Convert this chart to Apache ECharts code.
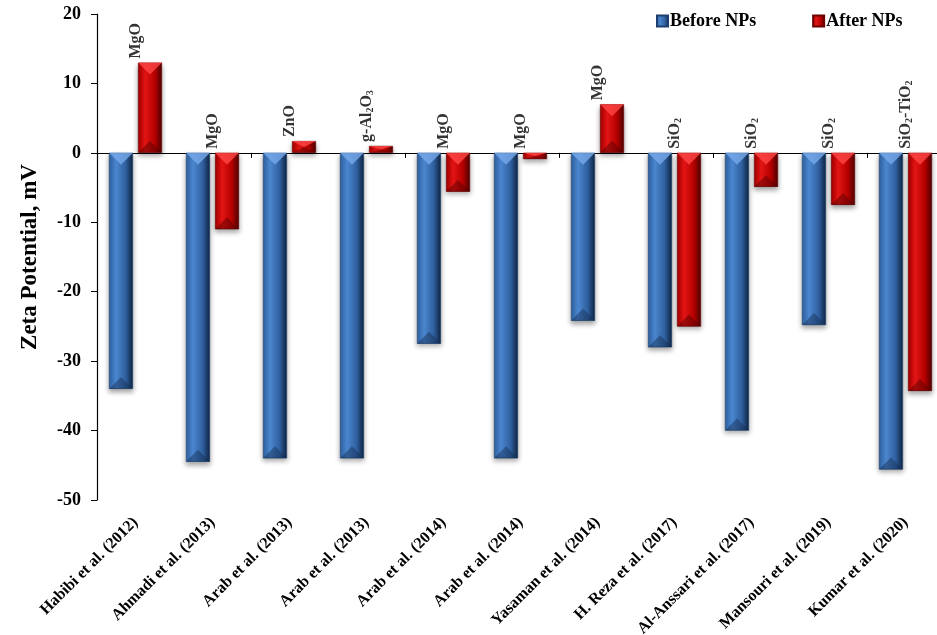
<!DOCTYPE html>
<html>
<head>
<meta charset="utf-8">
<script src="https://cdn.jsdelivr.net/npm/echarts@6/dist/echarts.min.js"></script>
<style>
  html, body { margin: 0; padding: 0; background: #fff; }
  #chart { width: 937px; height: 635px; }
</style>
</head>
<body>
<div id="chart"></div>
<script>
// Zeta potential of rock surfaces before and after nanoparticle treatment
const studies = [
  'Habibi et al. (2012)', 'Ahmadi et al. (2013)', 'Arab et al. (2013)', 'Arab et al. (2013)',
  'Arab et al. (2014)', 'Arab et al. (2014)', 'Yasaman et al. (2014)', 'H. Reza et al. (2017)',
  'Al-Anssari et al. (2017)', 'Mansouri et al. (2019)', 'Kumar et al. (2020)'
];
const beforeNPs = [-34, -44.5, -44, -44, -27.5, -44, -24.2, -28, -40, -24.8, -45.6];
const afterNPs  = [13, -11, 1.7, 1, -5.6, -0.9, 7, -25, -4.9, -7.5, -34.3];
// nanoparticle names; {s|..} marks a subscript
const particles = ['MgO', 'MgO', 'ZnO', 'g-Al{s|2}O{s|3}', 'MgO', 'MgO', 'MgO',
  'SiO{s|2}', 'SiO{s|2}', 'SiO{s|2}', 'SiO{s|2}-TiO{s|2}'];
const yTicks = { min: -50, max: 20, step: 10 };

const serif = '"Liberation Serif", "Times New Roman", serif';
const BAR_W = 24;
const BAR_GAP = 0.21;

function bevelFill(edge, light, mid, dark) {
  return new echarts.graphic.LinearGradient(0, 0, 1, 0, [
    { offset: 0, color: edge },
    { offset: 0.3, color: light },
    { offset: 0.7, color: mid },
    { offset: 1, color: dark }
  ]);
}
const blueFill = bevelFill('#2f62a3', '#4a86cf', '#2f5f9e', '#0f2542');
const redFill = bevelFill('#a30000', '#e31414', '#b50000', '#4d0000');
const bevelTones = [
  { light: 'rgba(120,170,235,0.8)', dark: 'rgba(20,45,80,0.45)' },
  { light: 'rgba(255,70,70,0.8)', dark: 'rgba(80,0,0,0.45)' }
];

// slanted bevel faces at the top and bottom edge of every bar
function renderBevel(params, api) {
  const cat = api.value(0);
  const val = api.value(1);
  const which = api.value(2);
  const shift = (BAR_W * (1 + BAR_GAP)) / 2 * (which === 0 ? -1 : 1);
  const base = api.coord([cat, 0]);
  const tip = api.coord([cat, val]);
  const xc = base[0] + shift;
  const x0 = xc - BAR_W / 2, x1 = xc + BAR_W / 2;
  const top = Math.min(base[1], tip[1]);
  const bottom = Math.max(base[1], tip[1]);
  const h = Math.min(BAR_W / 2, (bottom - top) / 2);
  const tone = bevelTones[which];
  return {
    type: 'group',
    children: [
      { type: 'polygon', shape: { points: [[x0, top], [x1, top], [xc, top + h]] },
        style: { fill: tone.light } },
      { type: 'polygon', shape: { points: [[x0, bottom], [x1, bottom], [xc, bottom - h]] },
        style: { fill: tone.dark } }
    ]
  };
}

const bevelData = beforeNPs.map((v, i) => [i, v, 0])
  .concat(afterNPs.map((v, i) => [i, v, 1]));

const chart = echarts.init(document.getElementById('chart'));
chart.setOption({
  backgroundColor: '#fff',
  animation: false,
  textStyle: { fontFamily: serif },
  grid: { left: 97, right: -7, top: 14, bottom: 135, containLabel: false, outerBoundsMode: 'none' },
  legend: {
    data: [
      { name: 'Before NPs', itemStyle: { color: blueFill } },
      { name: 'After NPs', itemStyle: { color: redFill } }
    ],
    left: 651, top: 7,
    icon: 'rect', itemWidth: 11, itemHeight: 11, itemGap: 56,
    textStyle: { fontFamily: serif, fontWeight: 'bold', fontSize: 18, color: '#000', padding: [0, 0, 0, -3] }
  },
  xAxis: [
    {
      type: 'category', data: studies, position: 'bottom',
      axisLine: { show: false, onZero: false }, axisTick: { show: false },
      axisLabel: {
        rotate: 45, interval: 0, margin: 20,
        fontFamily: serif, fontWeight: 'bold', fontSize: 16, color: '#000'
      }
    },
    {
      type: 'category', data: studies, position: 'bottom',
      axisLine: { show: true, onZero: true, lineStyle: { color: '#000', width: 1.2 } },
      axisTick: { show: true, length: 5, lineStyle: { color: '#000' } },
      axisLabel: { show: false }
    }
  ],
  yAxis: {
    type: 'value', min: yTicks.min, max: yTicks.max, interval: yTicks.step,
    name: 'Zeta Potential, mV', nameLocation: 'middle', nameGap: 55, nameRotate: 90,
    nameTextStyle: { fontFamily: serif, fontWeight: 'bold', fontSize: 23, color: '#000' },
    axisLine: { show: true, lineStyle: { color: '#000', width: 1.2 } },
    axisTick: { show: true, length: 6, lineStyle: { color: '#000' } },
    axisLabel: { fontFamily: serif, fontWeight: 'bold', fontSize: 18, color: '#000', margin: 16 },
    splitLine: { show: false }
  },
  series: [
    {
      name: 'Before NPs', type: 'bar', xAxisIndex: 0, data: beforeNPs,
      barWidth: BAR_W, barGap: (BAR_GAP * 100) + '%',
      itemStyle: {
        color: blueFill, borderColor: '#1c3f6e', borderWidth: 0.6,
        shadowBlur: 5, shadowColor: 'rgba(0,0,0,0.35)', shadowOffsetY: 3
      }
    },
    {
      name: 'After NPs', type: 'bar', xAxisIndex: 0, data: afterNPs,
      barWidth: BAR_W,
      itemStyle: {
        color: redFill, borderColor: '#6a0000', borderWidth: 0.6,
        shadowBlur: 5, shadowColor: 'rgba(0,0,0,0.35)', shadowOffsetY: 3
      }
    },
    {
      name: 'bevel', type: 'custom', xAxisIndex: 0, data: bevelData,
      renderItem: renderBevel, silent: true, z: 3
    },
    {
      name: 'particles', type: 'scatter', xAxisIndex: 0, symbolSize: 0,
      data: afterNPs.map((v, i) => [i, Math.max(0, v)]),
      silent: true, z: 5,
      label: {
        show: true, position: 'top', distance: 4, rotate: 90,
        align: 'left', verticalAlign: 'middle',
        formatter: p => particles[p.dataIndex],
        fontFamily: serif, fontWeight: 'bold', fontSize: 16, color: '#000',
        rich: {
          s: { fontFamily: serif, fontWeight: 'bold', fontSize: 10, color: '#000', padding: [8, 0, 0, 0] }
        }
      }
    }
  ]
});
</script>
</body>
</html>
